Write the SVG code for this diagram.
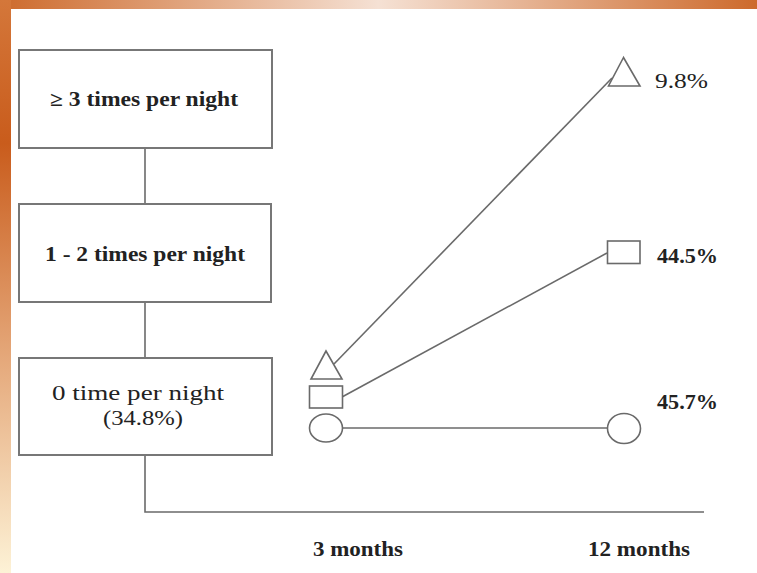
<svg xmlns="http://www.w3.org/2000/svg" width="757" height="573" viewBox="0 0 757 573">
  <defs>
    <linearGradient id="topGrad" x1="0" y1="0" x2="1" y2="0">
      <stop offset="0" stop-color="#cd6a2c"/>
      <stop offset="0.5" stop-color="#f5e1d4"/>
      <stop offset="1" stop-color="#cd6a2c"/>
    </linearGradient>
    <linearGradient id="leftGrad" x1="0" y1="0" x2="0" y2="1">
      <stop offset="0" stop-color="#d4773a"/>
      <stop offset="0.25" stop-color="#c95c1c"/>
      <stop offset="0.6" stop-color="#e3a374"/>
      <stop offset="1" stop-color="#fdf2d6"/>
    </linearGradient>
    <style>
      .box { fill: #ffffff; stroke: #777777; stroke-width: 2; }
      .conn { fill: none; stroke: #6a6a6a; stroke-width: 1.6; }
      .mark { fill: #ffffff; stroke: #6a6a6a; stroke-width: 1.6; }
      .t { font-family: 'Liberation Serif', 'Times New Roman', Times, serif; font-size: 20px; fill: #222222; }
      .l { font-size: 21px; }
      .b { font-weight: bold; }
    </style>
  </defs>

  <rect x="0" y="0" width="757" height="573" fill="#ffffff"/>
  <rect x="0" y="0" width="757" height="9" fill="url(#topGrad)"/>
  <rect x="0" y="0" width="11" height="573" fill="url(#leftGrad)"/>

  <g id="connectors">
    <line class="conn" x1="145" y1="148" x2="145" y2="204"/>
    <line class="conn" x1="145" y1="302" x2="145" y2="358"/>
    <polyline class="conn" points="145,456 145,512 704,512"/>
    <line class="conn" x1="334" y1="364" x2="612" y2="78"/>
    <line class="conn" x1="342" y1="397" x2="607" y2="253"/>
    <line class="conn" x1="342" y1="428" x2="608" y2="428"/>
  </g>

  <g id="box-3plus">
    <rect class="box" x="19" y="50" width="253" height="98"/>
    <text class="t b" x="50" y="106" textLength="188" lengthAdjust="spacingAndGlyphs">≥ 3 times per night</text>
  </g>

  <g id="box-1-2">
    <rect class="box" x="19" y="204" width="252" height="98"/>
    <text class="t b" x="45" y="261" textLength="200" lengthAdjust="spacingAndGlyphs">1 - 2 times per night</text>
  </g>

  <g id="box-0">
    <rect class="box" x="19" y="358" width="253" height="97"/>
    <text class="t" x="52" y="400" textLength="172" lengthAdjust="spacingAndGlyphs">0 time per night</text>
    <text class="t" x="103" y="425" textLength="80" lengthAdjust="spacingAndGlyphs">(34.8%)</text>
  </g>

  <g id="marker-3m-triangle">
    <polygon class="mark" points="326,351 311,379 342,379"/>
  </g>
  <g id="marker-3m-square">
    <rect class="mark" x="309.5" y="386" width="33" height="22"/>
  </g>
  <g id="marker-3m-circle">
    <ellipse class="mark" cx="326" cy="428" rx="16.5" ry="14"/>
  </g>

  <g id="marker-12m-triangle">
    <polygon class="mark" points="623.5,57.5 608.5,86 640,86"/>
    <text class="t" x="655" y="88" textLength="53" lengthAdjust="spacingAndGlyphs">9.8%</text>
  </g>
  <g id="marker-12m-square">
    <rect class="mark" x="607.5" y="241" width="32.5" height="22.5"/>
    <text class="t b" x="657" y="263" textLength="61" lengthAdjust="spacingAndGlyphs">44.5%</text>
  </g>
  <g id="marker-12m-circle">
    <ellipse class="mark" cx="624" cy="428.5" rx="16.5" ry="15"/>
    <text class="t b" x="657" y="409" textLength="61" lengthAdjust="spacingAndGlyphs">45.7%</text>
  </g>

  <g id="axis-labels">
    <text class="t l b" x="313" y="556" textLength="90" lengthAdjust="spacingAndGlyphs">3 months</text>
    <text class="t l b" x="588" y="556" textLength="102" lengthAdjust="spacingAndGlyphs">12 months</text>
  </g>
</svg>
